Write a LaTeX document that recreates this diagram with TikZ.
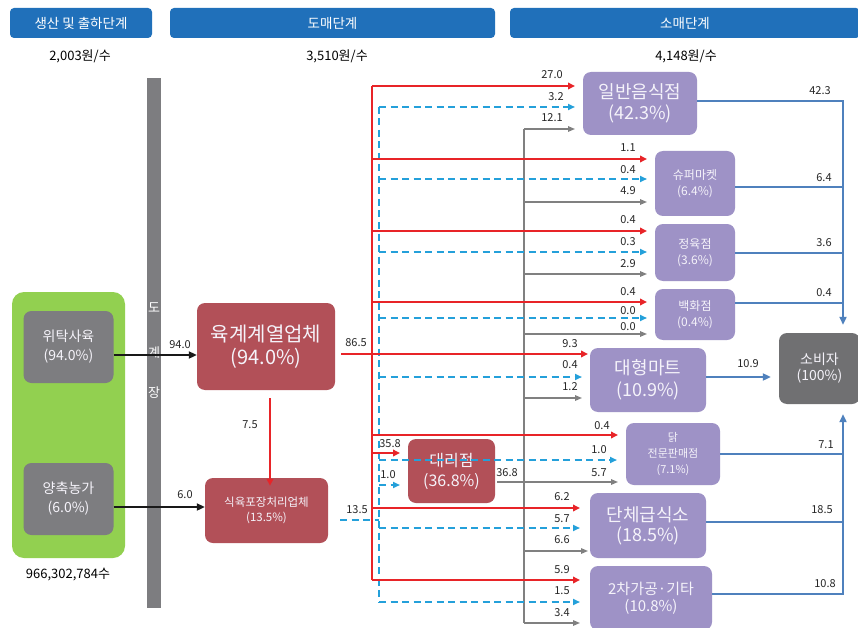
\documentclass[tikz,border=0pt]{standalone}
\usepackage{fontspec}
\setmainfont{Noto Sans CJK KR}
\usetikzlibrary{arrows.meta}
\definecolor{hdr}{RGB}{32,112,186}
\definecolor{grn}{RGB}{146,208,80}
\definecolor{gbox}{RGB}{125,125,128}
\definecolor{rbox}{RGB}{178,80,88}
\definecolor{pbox}{RGB}{158,146,198}
\definecolor{cbox}{RGB}{112,112,114}
\definecolor{rline}{RGB}{232,36,40}
\definecolor{bline}{RGB}{36,160,218}
\definecolor{gline}{RGB}{128,128,128}
\definecolor{sline}{RGB}{79,129,189}
\definecolor{btext}{RGB}{245,243,250}
\tikzset{
  fs/.style={font=\fontsize{#1}{#1}\selectfont},
  box/.style={rounded corners=8pt, inner sep=0pt, align=center, text=btext},
  hdrbox/.style={box, fill=hdr, rounded corners=4pt, text=white, font=\fontsize{13.5}{15}\selectfont},
  graybox/.style={box, fill=gbox},
  redbox/.style={box, fill=rbox},
  purbox/.style={box, fill=pbox},
  conbox/.style={box, fill=cbox},
  lbl/.style={inner sep=0pt, text=black!85, font=\fontsize{11}{12}\selectfont},
  redl/.style={draw=rline, line width=2.4pt},
  reda/.style={redl, -{Triangle[length=7pt,width=6.5pt]}},
  bluel/.style={draw=bline, line width=1.7pt, dash pattern=on 7pt off 4.5pt},
  bluea/.style={bluel, -{Triangle[length=7pt,width=6pt]}},
  grayl/.style={draw=gline, line width=1.4pt},
  graya/.style={grayl, -{Triangle[length=7pt,width=5.5pt]}},
  stl/.style={draw=sline, line width=2.4pt},
  sta/.style={stl, -{Triangle[length=8pt,width=7pt]}},
  blka/.style={draw=black!90, line width=2.2pt, -{Triangle[length=8pt,width=7pt]}}
}
\begin{document}
\begin{tikzpicture}[x=1pt,y=-1pt]
\useasboundingbox[fill=white] (0,0) rectangle (858,628);
\begin{scope}
\clip (0,0) rectangle (858,628);
% headers
\node[hdrbox, minimum width=142pt, minimum height=30pt] (h1) at (81,23) {생산 및 출하단계};
\node[hdrbox, minimum width=325pt, minimum height=30pt] (h2) at (332.5,23) {도매단계};
\node[hdrbox, minimum width=350pt, minimum height=30pt] (h3) at (685,23) {소매단계};
\node[inner sep=0pt, fs=13] (p1) at (80,56) {2,003원/수};
\node[inner sep=0pt, fs=13] (p2) at (337,56) {3,510원/수};
\node[inner sep=0pt, fs=13] (p3) at (686,56) {4,148원/수};

% producers
\node[box, fill=grn, rounded corners=12pt, minimum width=113pt, minimum height=266pt] (farm) at (68.5,425) {};
\node[graybox, minimum width=90pt, minimum height=72pt, font=\fontsize{14}{19}\selectfont] (g1) at (68.5,347) {위탁사육\\(94.0\%)};
\node[graybox, minimum width=90pt, minimum height=72pt, font=\fontsize{14}{19}\selectfont] (g2) at (68.5,499) {양축농가\\(6.0\%)};
\node[inner sep=0pt, fs=13] (tot) at (68,575) {966,302,784수};

% slaughterhouse bar
\node[fill=gbox, inner sep=0pt, minimum width=14pt, minimum height=530pt] (bar) at (154,343) {};
\node[inner sep=0pt, text=white, fs=13] (b1) at (154,308) {도};
\node[inner sep=0pt, text=white, fs=13] (b2) at (154,353) {계};
\node[inner sep=0pt, text=white, fs=13] (b3) at (154,393) {장};

% wholesale
\node[redbox, minimum width=138pt, minimum height=87pt, font=\fontsize{20}{23}\selectfont] (yk) at (266,346.5) {육계계열업체\\(94.0\%)};
\node[redbox, minimum width=123pt, minimum height=65pt, font=\fontsize{11.5}{15}\selectfont] (sp) at (266.5,510.5) {식육포장처리업체\\(13.5\%)};
\node[redbox, minimum width=87pt, minimum height=64pt, font=\fontsize{16}{20}\selectfont] (dr) at (451.5,471) {대리점\\(36.8\%)};

% retail
\node[purbox, minimum width=114pt, minimum height=63pt, font=\fontsize{18}{21}\selectfont] (il) at (640,103.5) {일반음식점\\(42.3\%)};
\node[purbox, minimum width=80pt, minimum height=65pt, font=\fontsize{12}{16}\selectfont] (su) at (695,183.5) {슈퍼마켓\\(6.4\%)};
\node[purbox, minimum width=80pt, minimum height=57pt, font=\fontsize{12}{16}\selectfont] (jy) at (695,252.5) {정육점\\(3.6\%)};
\node[purbox, minimum width=80pt, minimum height=51pt, font=\fontsize{12}{16}\selectfont] (bk) at (695,314.5) {백화점\\(0.4\%)};
\node[purbox, minimum width=116pt, minimum height=64pt, font=\fontsize{18}{22}\selectfont] (dh) at (648,380) {대형마트\\(10.9\%)};
\node[purbox, minimum width=94pt, minimum height=62pt, font=\fontsize{11}{16}\selectfont] (dk) at (673,454) {닭\\전문판매점\\(7.1\%)};
\node[purbox, minimum width=116pt, minimum height=65pt, font=\fontsize{18}{20}\selectfont] (dc) at (648,525.5) {단체급식소\\(18.5\%)};
\node[purbox, minimum width=122pt, minimum height=64pt, font=\fontsize{15}{17}\selectfont] (ec) at (651,598) {2차가공·기타\\(10.8\%)};
\node[conbox, minimum width=81pt, minimum height=71pt, font=\fontsize{14}{16}\selectfont] (cs) at (819.5,368.5) {소비자\\(100\%)};

% producer arrows
\draw[blka] (g1.east |- 0,355) -- (yk.west |- 0,355);
\draw[blka] (g2.east |- 0,507) -- (sp.west |- 0,507);
\draw[reda] ([xshift=4pt,yshift=-8pt]yk.south) -- ([xshift=4pt,yshift=-8pt]yk.south |- sp.north);

% trunks
\coordinate (rt) at (372,86);
\coordinate (rb) at (372,580);
\coordinate (bt) at (379,107);
\coordinate (bb) at (379,602);
\coordinate (gt) at (524,129);
\coordinate (gb) at (524,623);
\draw[grayl] (gt) -- (gb);
\draw[bluel] (bt) -- (bb);
\draw[redl] (rt) -- (rb);

% red branches
\draw[reda] (rt) -- (575,86);
\draw[reda] (372,159) -- (647,159);
\draw[reda] (372,231) -- (647,231);
\draw[reda] (372,302) -- (647,302);
\draw[reda] ([xshift=6pt]yk.east |- 0,354) -- (588,354);
\draw[reda] (372,435) -- (618,435);
\draw[reda] (372,453) -- (400,453);
\draw[reda] (372,508) -- (580,508);
\draw[reda] (rb) -- (580,580);

% blue branches
\draw[bluea] (bt) -- (575,107);
\draw[bluea] (379,179) -- (647,179);
\draw[bluea] (379,252) -- (647,252);
\draw[bluea] (379,318) -- (647,318);
\draw[bluea] (379,377) -- (582,377);
\draw[bluea] (379,460) -- (617,460);
\draw[bluea] (379,485) -- (400,485);
\draw[bluea] (379,528) -- (580,528);
\draw[bluea] (bb) -- (580,602);
\draw[bluel] ([xshift=12pt]sp.east |- 0,520) -- (379,520);

% gray branches
\draw[graya] (gt) -- (575,129);
\draw[graya] (524,202) -- (647,202);
\draw[graya] (524,274) -- (647,274);
\draw[graya] (524,334) -- (647,334);
\draw[graya] (524,398) -- (582,398);
\draw[graya] ([xshift=2pt]dr.east |- 0,482) -- (618,482);
\draw[graya] (524,551) -- (588,551);
\draw[graya] (gb) -- (580,623);

% to consumer
\coordinate (ct) at (843,101);
\coordinate (cb) at (843,594);
\draw[sta] (il.east |- ct) -- (ct) -- ([yshift=8pt]cs.north -| ct);
\draw[stl] (su.east |- 0,187) -- (843,187);
\draw[stl] (jy.east |- 0,253) -- (843,253);
\draw[stl] (bk.east |- 0,303) -- (843,303);
\draw[sta] (dh.east |- 0,377) -- ([xshift=-8pt]cs.west |- 0,377);
\draw[stl] (dk.east |- 0,454) -- (843,454);
\draw[stl] (dc.east |- 0,522) -- (843,522);
\draw[sta] (ec.east |- cb) -- (cb) -- ([yshift=-10pt]cs.south -| cb);

% labels
\node[lbl] at (180,345) {94.0};
\node[lbl] at (250,425) {7.5};
\node[lbl] at (185,495) {6.0};
\node[lbl] at (356,343) {86.5};
\node[lbl] at (357,510) {13.5};
\node[lbl] at (390,444) {35.8};
\node[lbl] at (388,475) {1.0};
\node[lbl] at (507,473) {36.8};
\node[lbl] at (552,75) {27.0};
\node[lbl] at (556,97) {3.2};
\node[lbl] at (552,118) {12.1};
\node[lbl] at (628,148) {1.1};
\node[lbl] at (628,170) {0.4};
\node[lbl] at (628,191) {4.9};
\node[lbl] at (628,220) {0.4};
\node[lbl] at (628,242) {0.3};
\node[lbl] at (628,264) {2.9};
\node[lbl] at (628,292) {0.4};
\node[lbl] at (628,311) {0.0};
\node[lbl] at (628,327) {0.0};
\node[lbl] at (570,344) {9.3};
\node[lbl] at (570,365) {0.4};
\node[lbl] at (570,387) {1.2};
\node[lbl] at (602,426) {0.4};
\node[lbl] at (599,450) {1.0};
\node[lbl] at (599,473) {5.7};
\node[lbl] at (562,497) {6.2};
\node[lbl] at (562,519) {5.7};
\node[lbl] at (562,540) {6.6};
\node[lbl] at (562,570) {5.9};
\node[lbl] at (562,591) {1.5};
\node[lbl] at (562,613) {3.4};
\node[lbl] at (820,91) {42.3};
\node[lbl] at (824,178) {6.4};
\node[lbl] at (824,243) {3.6};
\node[lbl] at (824,293) {0.4};
\node[lbl] at (748,364) {10.9};
\node[lbl] at (826,445) {7.1};
\node[lbl] at (822,510) {18.5};
\node[lbl] at (825,584) {10.8};
\end{scope}
\end{tikzpicture}
\end{document}
